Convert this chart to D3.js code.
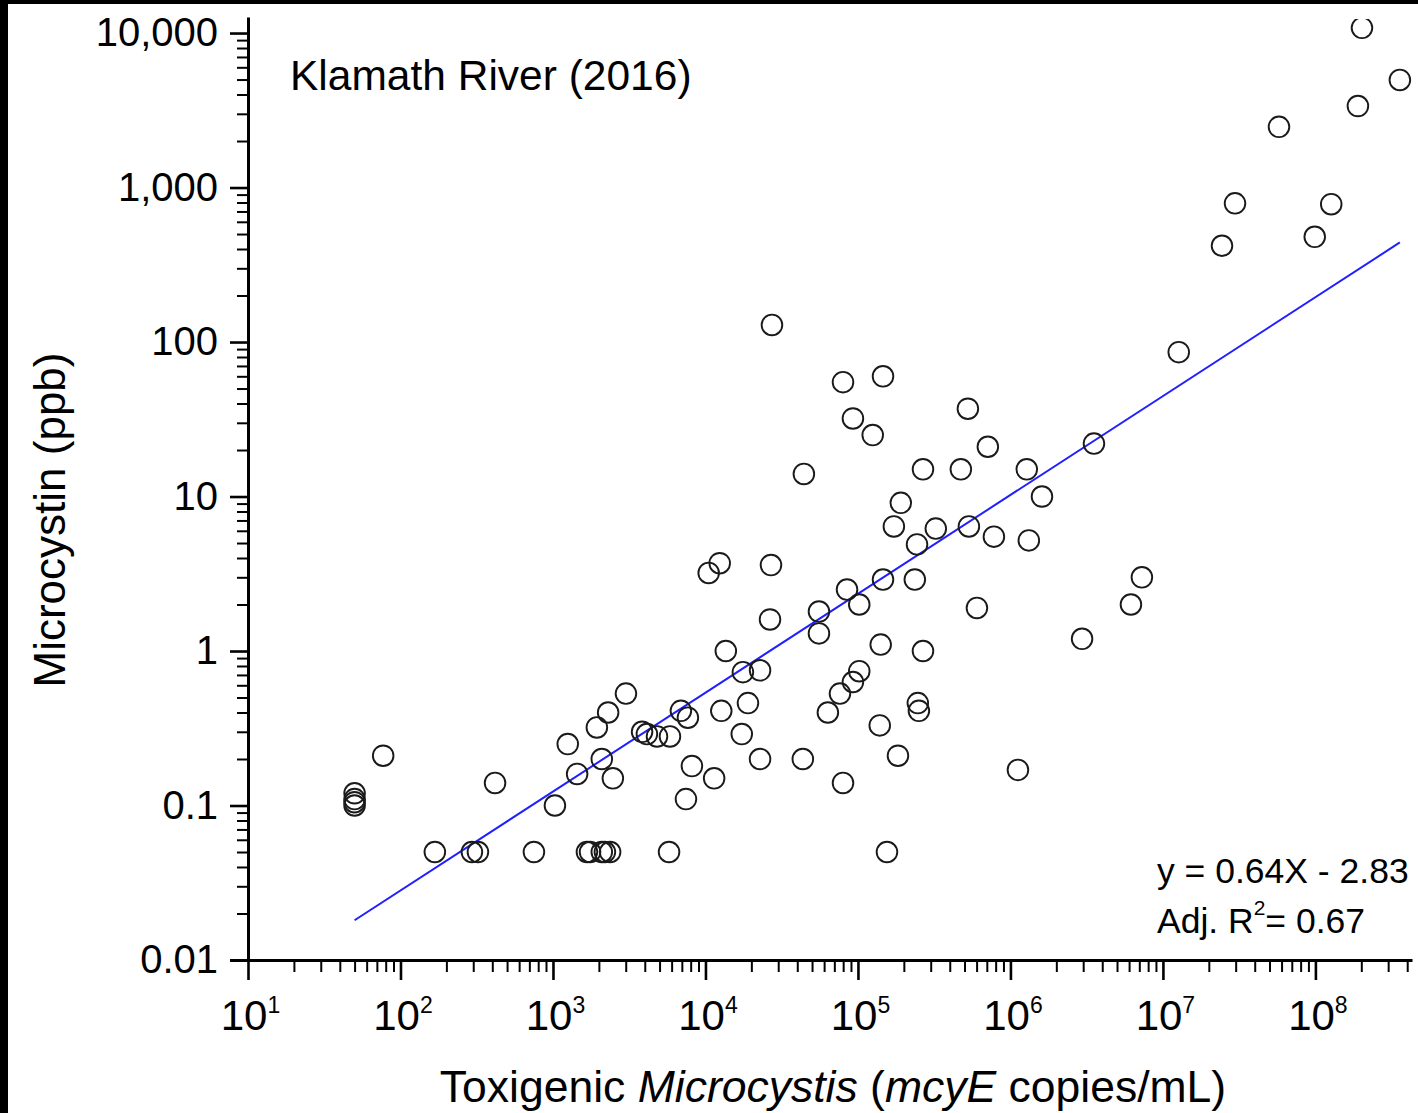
<!DOCTYPE html>
<html><head><meta charset="utf-8">
<script src="https://cdn.jsdelivr.net/npm/d3@7"></script>
<style>
html,body{margin:0;padding:0;background:#fff;}
svg{display:block;font-family:"Liberation Sans",Arial,Helvetica,sans-serif;}
</style>
</head><body>
<svg id="chart" width="1418" height="1113"></svg>
<script>
// ---- data ----
const xCopies = [50, 50, 50, 50, 77, 168, 294, 322, 417, 750, 1030, 1250, 1440,
  1670, 1750, 2090, 2190, 2370, 1940, 2090, 2300, 2470, 3010,
  3840, 4130, 4810, 5850, 6900, 7670, 5770, 7450, 8150,
  10500, 12400, 26900, 11400, 12700, 13600, 17300, 17600, 19000, 22800, 22800, 26500, 27300,
  43500, 44200, 55500, 55500, 63500, 76200, 79800, 79800, 84800, 92700, 92700, 102000, 102000,
  125000, 139000, 141000, 146000, 146000, 155000,
  172000, 183000, 191000, 236000, 244000, 247000, 251000, 267000, 267000, 324000,
  473000, 526000, 534000, 603000, 711000, 779000,
  1.12e6, 1.28e6, 1.32e6, 1.61e6, 2.95e6, 3.53e6, 6.17e6, 7.28e6,
  1.27e7, 2.44e7, 2.97e7, 5.77e7, 9.9e7, 1.27e8, 1.9e8, 2.02e8, 3.58e8];
const yMicrocystin = [0.12, 0.11, 0.105, 0.1, 0.21, 0.05, 0.05, 0.05, 0.14, 0.05, 0.1, 0.25, 0.16,
  0.05, 0.05, 0.05, 0.05, 0.05, 0.32, 0.2, 0.4, 0.15, 0.53,
  0.3, 0.29, 0.28, 0.28, 0.41, 0.37, 0.05, 0.11, 0.18,
  3.2, 3.7, 3.6, 0.15, 0.41, 1.0, 0.29, 0.73, 0.46, 0.75, 0.2, 1.6, 129,
  0.2, 14, 1.8, 1.3, 0.4, 0.53, 0.14, 55, 2.5, 32, 0.63, 2.0, 0.74,
  25, 0.33, 1.1, 60, 2.9, 0.05,
  6.4, 0.21, 9.1, 2.9, 4.9, 0.46, 0.41, 15, 1.0, 6.2,
  15, 37, 6.4, 1.9, 21, 5.5,
  0.17, 15, 5.2, 10, 1.2, 22, 2.0, 3.0,
  86, 420, 790, 2470, 480, 780, 3370, 10800, 4970];

const xTickExponents = [1, 2, 3, 4, 5, 6, 7, 8];
const yTickValues = [0.01, 0.1, 1, 10, 100, 1000, 10000];
const yTickLabels = ["0.01", "0.1", "1", "10", "100", "1,000", "10,000"];
const xDomain = [10, 4.3e8];
const yDomain = [0.01, 12700];

const fitSlope = 0.64;
const fitIntercept = -2.83;
const fitEquation = "y = 0.64X - 2.83";
const fitAdjR2 = "0.67";
const titleText = "Klamath River (2016)";
const yAxisTitle = "Microcystin (ppb)";

// ---- layout ----
const L = 248, R = 1412, B = 960, T = 17;
const svg = d3.select("#chart");

svg.append("rect").attr("x", 0).attr("y", 0).attr("width", 1418).attr("height", 1113).attr("fill", "#fff");

const x = d3.scaleLog().domain(xDomain).range([L, R]);
const y = d3.scaleLog().domain(yDomain).range([B, T]);

// minor tick values
const xMinor = [];
for (let e = 1; e <= 8; e++) for (let m = 2; m <= 9; m++) { const v = m * Math.pow(10, e); if (v <= xDomain[1]) xMinor.push(v); }
const yMinor = [];
for (let e = -2; e <= 3; e++) for (let m = 2; m <= 9; m++) { yMinor.push(m * Math.pow(10, e)); }

// clip
svg.append("clipPath").attr("id", "plotclip").append("rect")
  .attr("x", L).attr("y", 19).attr("width", 1418 - L).attr("height", B - 19);

// regression line
const xExt = d3.extent(xCopies);
const fitPts = xExt.map(v => [v, Math.pow(10, fitSlope * Math.log10(v) + fitIntercept)]);
svg.append("path")
  .attr("d", d3.line().x(d => x(d[0])).y(d => y(d[1]))(fitPts))
  .attr("fill", "none").attr("stroke", "#2020ff").attr("stroke-width", 2);

// points
svg.append("g").attr("clip-path", "url(#plotclip)")
  .selectAll("circle").data(xCopies.map((v, i) => [v, yMicrocystin[i]])).join("circle")
  .attr("cx", d => x(d[0])).attr("cy", d => y(d[1])).attr("r", 10.3)
  .attr("fill", "none").attr("stroke", "#1a1a1a").attr("stroke-width", 1.9);

// axes: minor ticks
const xMinorAxis = d3.axisBottom(x).tickValues(xMinor).tickSize(12).tickSizeOuter(0).tickFormat("");
const yMinorAxis = d3.axisLeft(y).tickValues(yMinor).tickSize(11).tickSizeOuter(0).tickFormat("");
const gxm = svg.append("g").attr("transform", `translate(0,${B})`).call(xMinorAxis);
const gym = svg.append("g").attr("transform", `translate(${L},0)`).call(yMinorAxis);
[gxm, gym].forEach(g => { g.select(".domain").remove(); g.selectAll("line").attr("stroke", "#000").attr("stroke-width", 2); });

// major axes
const xMajorAxis = d3.axisBottom(x).tickValues(xTickExponents.map(e => Math.pow(10, e))).tickSize(20).tickSizeOuter(0).tickFormat("");
const yMajorAxis = d3.axisLeft(y).tickValues(yTickValues).tickSize(18).tickSizeOuter(0).tickFormat("");
const gx = svg.append("g").attr("transform", `translate(0,${B})`).call(xMajorAxis);
const gy = svg.append("g").attr("transform", `translate(${L},0)`).call(yMajorAxis);
[gx, gy].forEach(g => {
  g.select(".domain").attr("stroke", "#000").attr("stroke-width", 3);
  g.selectAll("line").attr("stroke", "#000").attr("stroke-width", 2.6);
});
// extend x domain line left to meet bottom-left tick
svg.append("line").attr("x1", 230).attr("x2", L).attr("y1", B + 0.5).attr("y2", B + 0.5)
  .attr("stroke", "#000").attr("stroke-width", 3);

// y tick labels
gy.selectAll(".tick").append("text")
  .attr("x", -30).attr("dy", "0.32em")
  .attr("text-anchor", "end").attr("fill", "#000")
  .style("font-size", "40px").style("font-family", "'Liberation Sans', Arial, sans-serif")
  .text((d, i) => yTickLabels[i]);

// x tick labels with superscript exponents
gx.selectAll(".tick").each(function(d, i) {
  const t = d3.select(this).append("text")
    .attr("x", 2).attr("y", 70).attr("text-anchor", "middle").attr("fill", "#000")
    .style("font-size", "42px").style("font-family", "'Liberation Sans', Arial, sans-serif");
  t.append("tspan").text("10");
  t.append("tspan").attr("dy", -17).style("font-size", "23px").text(String(xTickExponents[i]));
});

// title
svg.append("text").attr("x", 290).attr("y", 90).attr("fill", "#000")
  .style("font-size", "42.5px").text(titleText);

// fit annotation
svg.append("text").attr("x", 1157).attr("y", 883).attr("fill", "#000")
  .style("font-size", "35.5px").text(fitEquation);
const r2 = svg.append("text").attr("x", 1157).attr("y", 933).attr("fill", "#000").style("font-size", "35.5px");
r2.append("tspan").text("Adj. R");
r2.append("tspan").attr("dy", -18).style("font-size", "21px").text("2");
r2.append("tspan").attr("dy", 18).text("= " + fitAdjR2);

// x axis title
const xt = svg.append("text").attr("x", 833).attr("y", 1102).attr("text-anchor", "middle")
  .attr("fill", "#000").style("font-size", "44.5px");
xt.append("tspan").text("Toxigenic ");
xt.append("tspan").style("font-style", "italic").text("Microcystis");
xt.append("tspan").text(" (");
xt.append("tspan").style("font-style", "italic").text("mcyE");
xt.append("tspan").text(" copies/mL)");

// y axis title
svg.append("text").attr("transform", "translate(65,520) rotate(-90)")
  .attr("text-anchor", "middle").attr("fill", "#000").style("font-size", "44px").text(yAxisTitle);

// black frame edges (top & left) as in reference
svg.append("rect").attr("x", 0).attr("y", 0).attr("width", 1418).attr("height", 4).attr("fill", "#000");
svg.append("rect").attr("x", 0).attr("y", 0).attr("width", 8).attr("height", 1113).attr("fill", "#000");
</script>
</body></html>
